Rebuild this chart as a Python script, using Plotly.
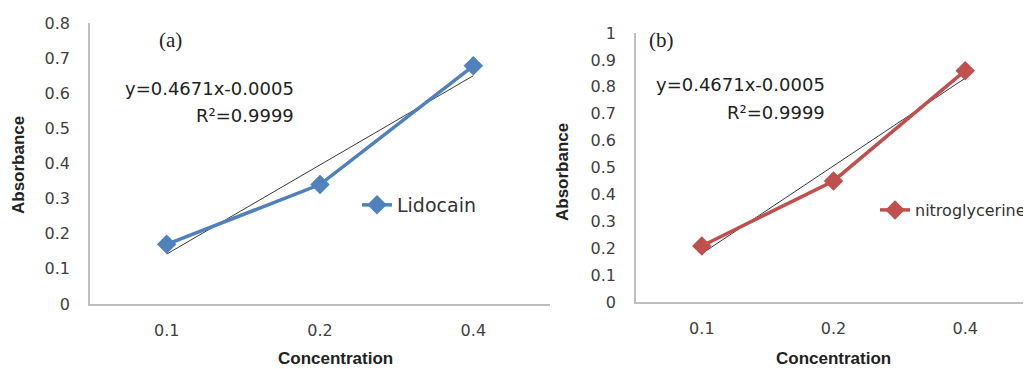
import numpy as np
import plotly.graph_objects as go

categories = ["0.1", "0.2", "0.4"]
lidocain = [0.17, 0.34, 0.678]
nitroglycerine = [0.208, 0.45, 0.86]
yticks_a = [0, 0.1, 0.2, 0.3, 0.4, 0.5, 0.6, 0.7, 0.8]
yticks_b = [0, 0.1, 0.2, 0.3, 0.4, 0.5, 0.6, 0.7, 0.8, 0.9, 1]
equation_text = "y=0.4671x-0.0005"
r2_text = "R²=0.9999"

# page body has an 8px default margin; map screen pixels into figure space
OX, OY = 8, 8
W, H = 1031 - OX, 369 - OY
BLUE = "#4F81BD"
RED = "#C0504D"
AXC = "#BFBFBF"
TXT = "#404040"
FONT = "DejaVu Sans, sans-serif"
BFONT = "Liberation Sans, Arial, sans-serif"


def trend(vals):
    idx = np.arange(1, len(vals) + 1)
    k, b = np.polyfit(idx, vals, 1)
    return [k * idx[0] + b, k * idx[-1] + b]


def px(x):
    return (x - OX) / W


def py(y):
    return 1 - (y - OY) / H


fig = go.Figure()

fig.add_trace(go.Scatter(x=[categories[0], categories[-1]], y=trend(lidocain), mode="lines",
                         line=dict(color="#3a3a3a", width=1), showlegend=False,
                         xaxis="x", yaxis="y"))
fig.add_trace(go.Scatter(x=categories, y=lidocain, mode="lines+markers", name="Lidocain",
                         line=dict(color=BLUE, width=3.5),
                         marker=dict(symbol="diamond", size=15, color=BLUE),
                         xaxis="x", yaxis="y", legend="legend"))
fig.add_trace(go.Scatter(x=[categories[0], categories[-1]], y=trend(nitroglycerine), mode="lines",
                         line=dict(color="#3a3a3a", width=1), showlegend=False,
                         xaxis="x2", yaxis="y2"))
fig.add_trace(go.Scatter(x=categories, y=nitroglycerine, mode="lines+markers", name="nitroglycerine",
                         line=dict(color=RED, width=3.5),
                         marker=dict(symbol="diamond", size=15, color=RED),
                         xaxis="x2", yaxis="y2", legend="legend2"))

xcommon = dict(type="category", categoryorder="array", categoryarray=categories,
               range=[-0.5, 2.5], showgrid=False, zeroline=False, showline=True,
               linecolor=AXC, linewidth=1.5, ticks="", ticklabelstandoff=11,
               automargin=False,
               tickfont=dict(family=FONT, size=16, color=TXT), fixedrange=True)
ycommon = dict(showgrid=False, zeroline=False, showline=True, linecolor=AXC, linewidth=1.5,
               ticks="", ticklabelstandoff=15, automargin=False,
               tickfont=dict(family=FONT, size=16, color=TXT))

fig.update_layout(
    width=W, height=H, autosize=False, margin=dict(l=0, r=0, t=0, b=0, pad=0, autoexpand=False),
    paper_bgcolor="white", plot_bgcolor="white",
    xaxis=dict(xcommon, domain=[px(90), px(550)], anchor="y"),
    yaxis=dict(ycommon, domain=[py(304), py(23)], range=[0, 0.8], tickvals=yticks_a,
               ticktext=[f"{v:g}" for v in yticks_a], anchor="x"),
    xaxis2=dict(xcommon, domain=[px(636), 1.0], anchor="y2"),
    yaxis2=dict(ycommon, domain=[py(302), py(33)], range=[0, 1], tickvals=yticks_b,
                ticktext=[f"{v:g}" for v in yticks_b], anchor="x2"),
    legend=dict(x=px(357), y=py(205), xanchor="left", yanchor="middle",
                bgcolor="rgba(0,0,0,0)", font=dict(family=FONT, size=19, color="#333"),
                itemwidth=30, tracegroupgap=0),
    legend2=dict(x=px(875), y=py(210), xanchor="left", yanchor="middle",
                 bgcolor="rgba(0,0,0,0)", font=dict(family=FONT, size=16, color="#333"),
                 itemwidth=30, tracegroupgap=0),
    showlegend=True,
)

ann = []
def add(text, x, y, size, xanchor="center", family=FONT, bold=False, angle=0, color="#222"):
    t = f"<b>{text}</b>" if bold else text
    ann.append(dict(text=t, x=px(x), y=py(y), xref="paper", yref="paper", showarrow=False,
                    xanchor=xanchor, yanchor="middle", textangle=angle,
                    font=dict(family=family, size=size, color=color)))

add("Absorbance", 18, 165, 17, family=BFONT, bold=True, angle=-90)
add("Absorbance", 562, 172, 17, family=BFONT, bold=True, angle=-90)
add("Concentration", 335, 358, 17, family=BFONT, bold=True)
add("Concentration", 833, 358, 17, family=BFONT, bold=True)
add("(a)", 170, 40, 21, family="Liberation Serif, Times New Roman, serif")
add("(b)", 661, 40, 21, family="Liberation Serif, Times New Roman, serif")
add(equation_text, 296, 88, 18, xanchor="right")
add(r2_text, 296, 115, 18, xanchor="right")
add(equation_text, 827, 85, 18, xanchor="right")
add(r2_text, 827, 112, 18, xanchor="right")
fig.update_layout(annotations=ann)

fig.write_html("out.html")
